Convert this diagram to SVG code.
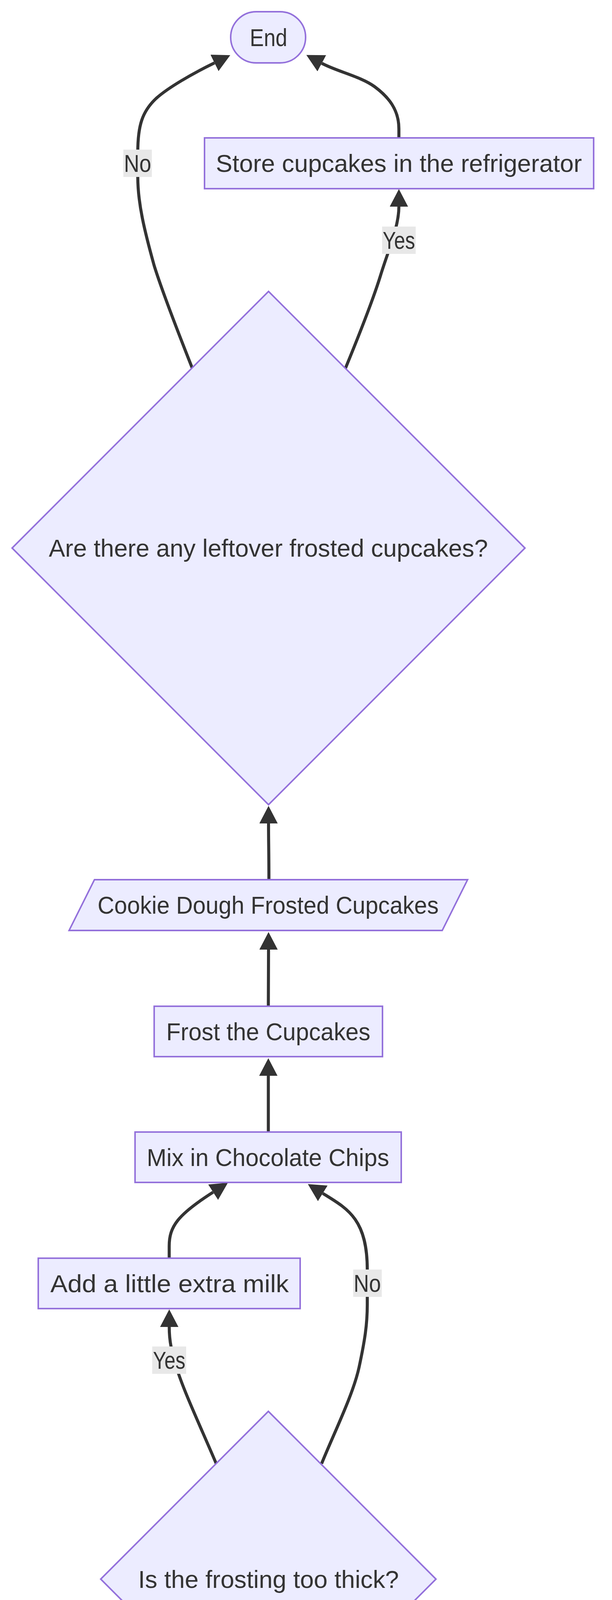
<svg xmlns="http://www.w3.org/2000/svg" width="1568" height="6180" viewBox="0 0 1568 6180">
<defs>
<style>
.n{fill:#ECECFF;stroke:#9370DB;stroke-width:3.9}
.t{font-family:"Liberation Sans",Arial,sans-serif;font-size:62.7px;fill:#333333;text-anchor:middle}
.e{fill:none;stroke:#333333;stroke-width:7.8}
.lb{fill:#e8e8e8}
</style>
<marker id="arr" markerUnits="userSpaceOnUse" viewBox="0 0 45 47" markerWidth="45" markerHeight="47" refX="0" refY="23.5" orient="auto">
<path d="M0,0 L45,23.5 L0,47 z" fill="#333333"/>
</marker>
</defs>
<rect width="1568" height="6180" fill="#ffffff"/>
<g id="edges">
<path class="e" marker-end="url(#arr)" d="M687,5955 C687,5880 689,5860 689,5811"/>
<path class="e" marker-end="url(#arr)" d="M689,5633 C689,5560 687.5,5540 687.5,5489"/>
<path class="e" marker-end="url(#arr)" d="M687.5,5311 L687.5,5166"/>
<path class="e" marker-end="url(#arr)" d="M687.5,4988 L687.5,4844"/>
<path class="e" marker-end="url(#arr)" d="M687,4666 C687,4590 688,4570 688,4521"/>
<path class="e" marker-end="url(#arr)" d="M554,3747 C515,3655 470,3560 452,3500 C442,3465 433.6,3440 433.6,3397"/>
<path class="e" marker-end="url(#arr)" d="M824,3747 C855,3670 905,3570 920,3500 C935,3430 941,3390 941,3340 L941,3250 C941,3120 890,3094 827,3055"/>
<path class="e" marker-end="url(#arr)" d="M433.5,3221 L433.5,3190 C433.5,3140 455,3110 546,3052"/>
<path class="e" marker-end="url(#arr)" d="M687.5,2898 L687.5,2754"/>
<path class="e" marker-end="url(#arr)" d="M687.5,2576 C687.5,2500 688,2480 688,2431"/>
<path class="e" marker-end="url(#arr)" d="M689,2252 C689,2180 688,2160 688,2108"/>
<path class="e" marker-end="url(#arr)" d="M885,943 C915,870 955,770 975,705 C995,640 1022,580 1022,529"/>
<path class="e" marker-end="url(#arr)" d="M492,941 C470,885 420,760 395,680 C370,590 353,520 353,453 L353,390 C353,320 365,285 400,252 C430,225 490,190 549.5,161"/>
<path class="e" marker-end="url(#arr)" d="M1022,353 L1022,330 C1022,280 995,248 960,222 C925,196 863.5,183 824.5,162"/>
</g>
<g id="edge-labels">
<g id="label-no-top"><rect class="lb" x="316" y="383" width="73" height="70"/><text class="t" x="352.5" y="440" textLength="70" lengthAdjust="spacingAndGlyphs">No</text></g>
<g id="label-yes-top"><rect class="lb" x="979" y="580" width="86" height="70"/><text class="t" x="1022" y="637" textLength="83" lengthAdjust="spacingAndGlyphs">Yes</text></g>
<g id="label-no-mid"><rect class="lb" x="905" y="3250" width="73" height="70"/><text class="t" x="941" y="3307" textLength="70" lengthAdjust="spacingAndGlyphs">No</text></g>
<g id="label-yes-mid"><rect class="lb" x="390" y="3447" width="87" height="70"/><text class="t" x="433.5" y="3504" textLength="83" lengthAdjust="spacingAndGlyphs">Yes</text></g>
</g>
<g id="node-end"><rect class="n" x="591" y="30" width="192" height="131" rx="65.5" ry="65.5"/><text class="t" x="688" y="117.5" textLength="96" lengthAdjust="spacingAndGlyphs">End</text></g>
<g id="node-store"><rect class="n" x="524" y="353" width="997" height="130"/><text class="t" x="1022" y="440" textLength="938" lengthAdjust="spacingAndGlyphs">Store cupcakes in the refrigerator</text></g>
<g id="node-leftover"><polygon class="n" points="688,746 1345,1403 688,2060 31,1403"/><text class="t" x="687.5" y="1425" textLength="1125" lengthAdjust="spacingAndGlyphs">Are there any leftover frosted cupcakes?</text></g>
<g id="node-cookie"><polygon class="n" points="242,2252 1198,2252 1133,2382 177,2382"/><text class="t" x="687" y="2339" textLength="874" lengthAdjust="spacingAndGlyphs">Cookie Dough Frosted Cupcakes</text></g>
<g id="node-frost"><rect class="n" x="395" y="2576" width="585" height="129"/><text class="t" x="687.5" y="2662.5" textLength="523" lengthAdjust="spacingAndGlyphs">Frost the Cupcakes</text></g>
<g id="node-mix"><rect class="n" x="346" y="2898" width="682" height="129"/><text class="t" x="686.5" y="2984.5" textLength="621" lengthAdjust="spacingAndGlyphs">Mix in Chocolate Chips</text></g>
<g id="node-milk"><rect class="n" x="98" y="3221" width="671" height="129"/><text class="t" x="434.5" y="3307.5" textLength="611" lengthAdjust="spacingAndGlyphs">Add a little extra milk</text></g>
<g id="node-thick"><polygon class="n" points="687.5,3613 1117,4042.5 687.5,4472 258,4042.5"/><text class="t" x="688" y="4065" textLength="668" lengthAdjust="spacingAndGlyphs">Is the frosting too thick?</text></g>
<g id="node-incorporate"><rect class="n" x="272" y="4666" width="830" height="129"/><text class="t" x="687" y="4752.5" textLength="768" lengthAdjust="spacingAndGlyphs">Incorporate Milk and Vanilla</text></g>
<g id="node-dry"><rect class="n" x="387" y="4988" width="601" height="129"/><text class="t" x="687" y="5074.5" textLength="540" lengthAdjust="spacingAndGlyphs">Add Dry Ingredients</text></g>
<g id="node-cream"><rect class="n" x="328" y="5311" width="719" height="129"/><text class="t" x="687" y="5397.5" textLength="658" lengthAdjust="spacingAndGlyphs">Cream Butter and Sugar</text></g>
<g id="node-gather"><polygon class="n" points="420,5633 1018,5633 955,5762 356,5762"/><text class="t" x="687" y="5719.5" textLength="514" lengthAdjust="spacingAndGlyphs">Gather Ingredients</text></g>
<g id="node-start"><rect class="n" x="574" y="5955" width="226" height="129" rx="64.5" ry="64.5"/><text class="t" x="686.5" y="6041.5" textLength="131" lengthAdjust="spacingAndGlyphs">Start</text></g>
</svg>
